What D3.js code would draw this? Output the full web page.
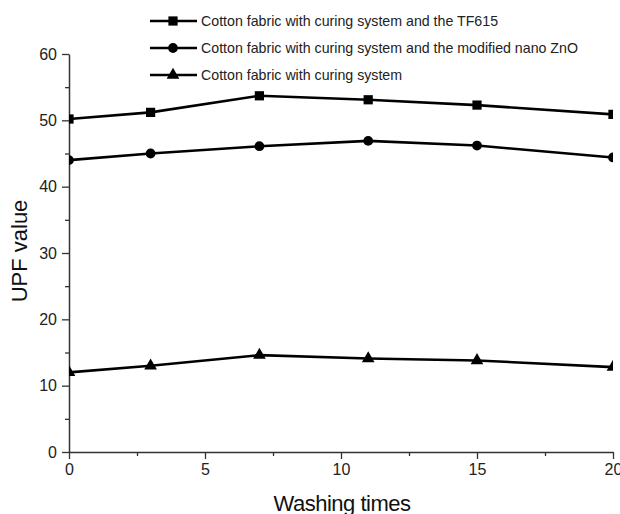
<!DOCTYPE html>
<html>
<head>
<meta charset="utf-8">
<script src="https://cdn.jsdelivr.net/npm/d3@7"></script>
<style>
  body { margin: 0; background: #fff; }
  svg { display: block; font-family: "Liberation Sans", Arial, sans-serif; }
</style>
</head>
<body>
<div id="chart"></div>
<script>
// washing times
const washes = [0, 3, 7, 11, 15, 20];
const tf615 = [50.2, 51.2, 53.7, 53.1, 52.3, 50.9];
const nanoZnO = [44.0, 45.0, 46.1, 46.9, 46.2, 44.4];
const curingOnly = [12.0, 13.0, 14.6, 14.1, 13.8, 12.8];
const seriesNames = [
  "Cotton fabric with curing system and the TF615",
  "Cotton fabric with curing system and the modified nano ZnO",
  "Cotton fabric with curing system"
];
const xTicks = [0, 5, 10, 15, 20];
const yTicks = [0, 10, 20, 30, 40, 50, 60];

const width = 620, height = 514;
const margin = { top: 54, right: 7, bottom: 62, left: 69 };
const iw = width - margin.left - margin.right,
      ih = height - margin.top - margin.bottom;

const svg = d3.select("#chart").append("svg")
  .attr("width", width)
  .attr("height", height);

const g = svg.append("g")
  .attr("transform", `translate(${margin.left},${margin.top})`);

const x = d3.scaleLinear().domain([0, 20]).range([0, iw]);
const y = d3.scaleLinear().domain([0, 60]).range([ih, 0]);

// minor ticks
g.append("g")
  .attr("transform", `translate(0,${ih})`)
  .call(d3.axisBottom(x).tickValues([2.5, 7.5, 12.5, 17.5]).tickSize(4).tickFormat(""))
  .call(a => a.select(".domain").remove())
  .selectAll("line").attr("stroke", "#333").attr("stroke-width", 1.3);

g.append("g")
  .call(d3.axisLeft(y).tickValues([5, 15, 25, 35, 45, 55]).tickSize(4).tickFormat(""))
  .call(a => a.select(".domain").remove())
  .selectAll("line").attr("stroke", "#333").attr("stroke-width", 1.3);

// main axes
const xAxis = g.append("g")
  .attr("transform", `translate(0,${ih})`)
  .call(d3.axisBottom(x).tickValues(xTicks).tickSizeInner(7).tickSizeOuter(0).tickPadding(5));
const yAxis = g.append("g")
  .call(d3.axisLeft(y).tickValues(yTicks).tickSizeInner(7).tickSizeOuter(0).tickPadding(5));

[xAxis, yAxis].forEach(a => {
  a.select(".domain").attr("stroke", "#333").attr("stroke-width", 1.5);
  a.selectAll(".tick line").attr("stroke", "#333").attr("stroke-width", 1.3);
  a.selectAll("text").attr("font-size", 16).attr("fill", "#222")
    .attr("font-family", "'Liberation Sans', Arial, sans-serif");
});

// axis titles
svg.append("text")
  .attr("x", 342).attr("y", 511)
  .attr("text-anchor", "middle")
  .attr("font-size", 22)
  .attr("fill", "#111")
  .style("letter-spacing", "-0.5px")
  .text("Washing times");

svg.append("text")
  .attr("transform", "translate(27,251) rotate(-90)")
  .attr("text-anchor", "middle")
  .attr("font-size", 22)
  .attr("fill", "#111")
  .text("UPF value");

// clip plot area
svg.append("defs").append("clipPath").attr("id", "plot-clip")
  .append("rect").attr("x", 0).attr("y", -10).attr("width", iw).attr("height", ih + 10);

const plot = g.append("g").attr("clip-path", "url(#plot-clip)");

const series = [
  { name: seriesNames[0], values: tf615, symbol: d3.symbolSquare, size: 85 },
  { name: seriesNames[1], values: nanoZnO, symbol: d3.symbolCircle, size: 75 },
  { name: seriesNames[2], values: curingOnly, symbol: d3.symbolTriangle, size: 70 }
];

const line = d3.line().x(d => x(d[0])).y(d => y(d[1]));

series.forEach(s => {
  const pts = washes.map((w, i) => [w, s.values[i]]);
  plot.append("path")
    .datum(pts)
    .attr("fill", "none")
    .attr("stroke", "#000")
    .attr("stroke-width", 2.6)
    .attr("d", line);
  plot.selectAll(null)
    .data(pts)
    .enter()
    .append("path")
    .attr("transform", d => `translate(${x(d[0])},${y(d[1])})`)
    .attr("d", d3.symbol().type(s.symbol).size(s.size))
    .attr("fill", "#000");
});

// legend
const legend = svg.append("g").attr("transform", "translate(150,21)");
series.forEach((s, i) => {
  const row = legend.append("g").attr("transform", `translate(0,${i * 27})`);
  row.append("line")
    .attr("x1", 0).attr("x2", 47)
    .attr("stroke", "#000").attr("stroke-width", 2.6);
  row.append("path")
    .attr("transform", "translate(23,0)")
    .attr("d", d3.symbol().type(s.symbol).size(s.size))
    .attr("fill", "#000");
  row.append("text")
    .attr("x", 51).attr("y", 0)
    .attr("dy", "0.35em")
    .attr("font-size", 14.2)
    .attr("fill", "#222")
    .text(s.name);
});
</script>
</body>
</html>
